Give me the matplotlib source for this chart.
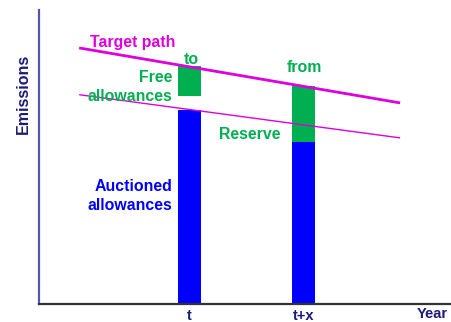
import matplotlib
matplotlib.use("Agg")
import matplotlib.pyplot as plt

plt.rcParams["font.family"] = ["Liberation Sans", "DejaVu Sans"]
plt.rcParams["font.weight"] = "bold"

# Time axis (arbitrary units) and the two reference years
years = ["t", "t+x"]
year_pos = [10, 20]

# Emissions (arbitrary units)
auctioned = [66.0, 55.1]
free_bottom = [70.7, 55.1]
free_top = [81.0, 74.1]

# Target path and lower (reserve) path: start / end points
path_x = [0.3, 28.5]
target_path = [87.1, 68.4]
lower_path = [71.2, 56.5]

MAGENTA = "#DD00DD"
GREEN = "#00B050"
BLUE = "#0000FF"
NAVY = "#1C1C78"

fig = plt.figure(figsize=(4.51, 3.22), dpi=100)
ax = fig.add_axes([39 / 451, 18 / 322, 412 / 451, 294 / 322])
ax.set_xlim(-3.23, 32.97)
ax.set_ylim(0, 100)

bar_w = 2.0
ax.bar(year_pos, auctioned, width=bar_w, color=BLUE, zorder=2)
ax.bar(year_pos, [tp - bt for tp, bt in zip(free_top, free_bottom)],
       bottom=free_bottom, width=bar_w, color=GREEN, zorder=2)

ax.plot(path_x, target_path, color=MAGENTA, lw=2.0, zorder=3,
        solid_capstyle="butt")
ax.plot(path_x, lower_path, color=MAGENTA, lw=1.0, zorder=3,
        solid_capstyle="butt")

fs = 11.4
ax.text(1.25, 87.5, "Target path", color=MAGENTA, fontsize=fs,
        ha="left", va="baseline")
ax.text(10.19, 81.6, "to", color=GREEN, fontsize=fs, ha="center", va="baseline")
ax.text(8.48, 75.4, "Free", color=GREEN, fontsize=fs, ha="right", va="baseline")
ax.text(8.48, 68.9, "allowances", color=GREEN, fontsize=fs, ha="right",
        va="baseline", zorder=4)
ax.text(20.1, 78.8, "from", color=GREEN, fontsize=fs, ha="center", va="baseline")
ax.text(17.95, 56.0, "Reserve", color=GREEN, fontsize=fs, ha="right",
        va="baseline")
ax.text(8.48, 38.4, "Auctioned", color=BLUE, fontsize=fs, ha="right",
        va="baseline")
ax.text(8.48, 32.0, "allowances", color=BLUE, fontsize=fs, ha="right",
        va="baseline")

for pos, lab in zip(year_pos, years):
    ax.text(pos, -5.4, lab, color=NAVY, fontsize=10.5, ha="center",
            va="baseline", clip_on=False)
ax.text(31.28, -4.9, "Year", color=NAVY, fontsize=10.5, ha="center",
        va="baseline", clip_on=False)

fig.text(23.3 / 451, 1 - 53.7 / 322, "Emissions", color=NAVY, fontsize=11.5,
         rotation=90, ha="right", va="center", rotation_mode="anchor")

ax.set_xticks([])
ax.set_yticks([])
for side in ("top", "right"):
    ax.spines[side].set_visible(False)
ax.spines["left"].set_color("#5555AA")
ax.spines["left"].set_linewidth(1.6)
ax.spines["bottom"].set_color("#333333")
ax.spines["bottom"].set_linewidth(1.6)

fig.savefig("out.png", dpi=100)
